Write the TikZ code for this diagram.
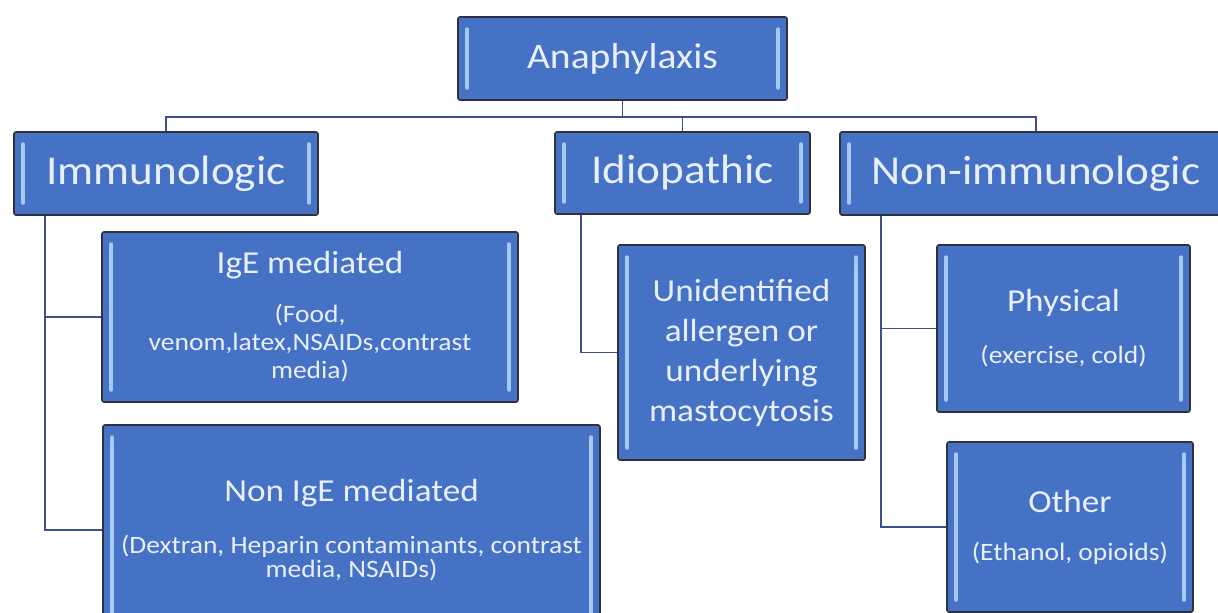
\documentclass[tikz,border=0pt]{standalone}
\usepackage{fontspec}
\setmainfont{Carlito}[FakeStretch=1.1]
\definecolor{tile}{RGB}{69,114,196}
\definecolor{edge}{RGB}{45,50,60}
\definecolor{wire}{RGB}{60,80,140}
\definecolor{ink}{RGB}{232,239,250}
\definecolor{glint}{RGB}{165,200,240}
\newcommand{\anafont}{\fontsize{36}{43}\selectfont}
\newcommand{\typefont}{\fontsize{41}{48}\selectfont}
\newcommand{\causefont}{\fontsize{32}{40}\selectfont}
\newcommand{\notesfont}{\fontsize{25}{28}\selectfont}
\newcommand{\tightnotes}{\fontsize{25}{24}\selectfont}
\tikzset{
    box/.style={draw=edge, line width=1.6pt, fill=tile, rounded corners=2pt,
        text=ink, align=center, inner sep=0pt,
        path picture={
            \draw[glint bar] ([shift={(9,12)}]path picture bounding box.north west) -- ([shift={(9,-12)}]path picture bounding box.south west);
            \draw[glint bar] ([shift={(-9,12)}]path picture bounding box.north east) -- ([shift={(-9,-12)}]path picture bounding box.south east);
        }},
    glint bar/.style={draw=glint, line width=3.5pt, line cap=round},
    link/.style={draw=wire, line width=1.5pt}
}
\begin{document}
\begin{tikzpicture}[x=1pt, y=-1pt]
                \useasboundingbox (0,0) rectangle (1218,613);
                \clip (0,0) rectangle (1218,613);
                % top
                \node[box, minimum width=329, minimum height=83, font=\anafont] (root) at (622.5,58.5) {Anaphylaxis};
                % kinds
                \node[box, minimum width=304, minimum height=83, font=\typefont] (immu) at (166,173.5) {Immunologic};
                \node[box, minimum width=255, minimum height=82, font=\typefont] (idio) at (682.5,173) {Idiopathic};
                \node[box, minimum width=392, minimum height=83, font=\typefont] (nonimmu) at (1036,173.5) {Non-immunologic};
                % causes
                \node[box, minimum width=416, minimum height=170, font=\notesfont] (ige) at (310,317)
                    {{\causefont IgE mediated}\\[21pt](Food,\\venom,latex,NSAIDs,contrast\\media)};
                \node[box, minimum width=497, minimum height=210, font=\tightnotes] (nonige) at (351.5,530)
                    {{\causefont Non IgE mediated}\\[28pt](Dextran, Heparin contaminants, contrast\\media, NSAIDs)};
                \node[box, minimum width=247, minimum height=215, font=\causefont] (unid) at (741.5,352.5)
                    {Unidentified\\allergen or\\underlying\\mastocytosis};
                \node[box, minimum width=253, minimum height=167, font=\notesfont] (phys) at (1063.5,328.5)
                    {{\causefont Physical}\\[24pt](exercise, cold)};
                \node[box, minimum width=246, minimum height=170, font=\notesfont] (other) at (1070,527)
                    {{\causefont Other}\\[20pt](Ethanol, opioids)};

                \draw[link] (root.south) -- ++(0,16) coordinate (bus);
                \foreach \n in {immu,idio,nonimmu}
                {
                    \draw[link] (bus) -| (\n.north);
                }
                \draw[link] (immu.south west) ++(32,0) coordinate (immutrunk) |- (ige.west);
                \draw[link] (immutrunk) |- (nonige.west);
                \draw[link] (idio.south west) ++(27,0) coordinate (idiotrunk) |- (unid.west);
                \draw[link] (nonimmu.south west) ++(42,0) coordinate (nonimmutrunk) |- (phys.west);
                \draw[link] (nonimmutrunk) |- (other.west);

            \end{tikzpicture}
\end{document}
